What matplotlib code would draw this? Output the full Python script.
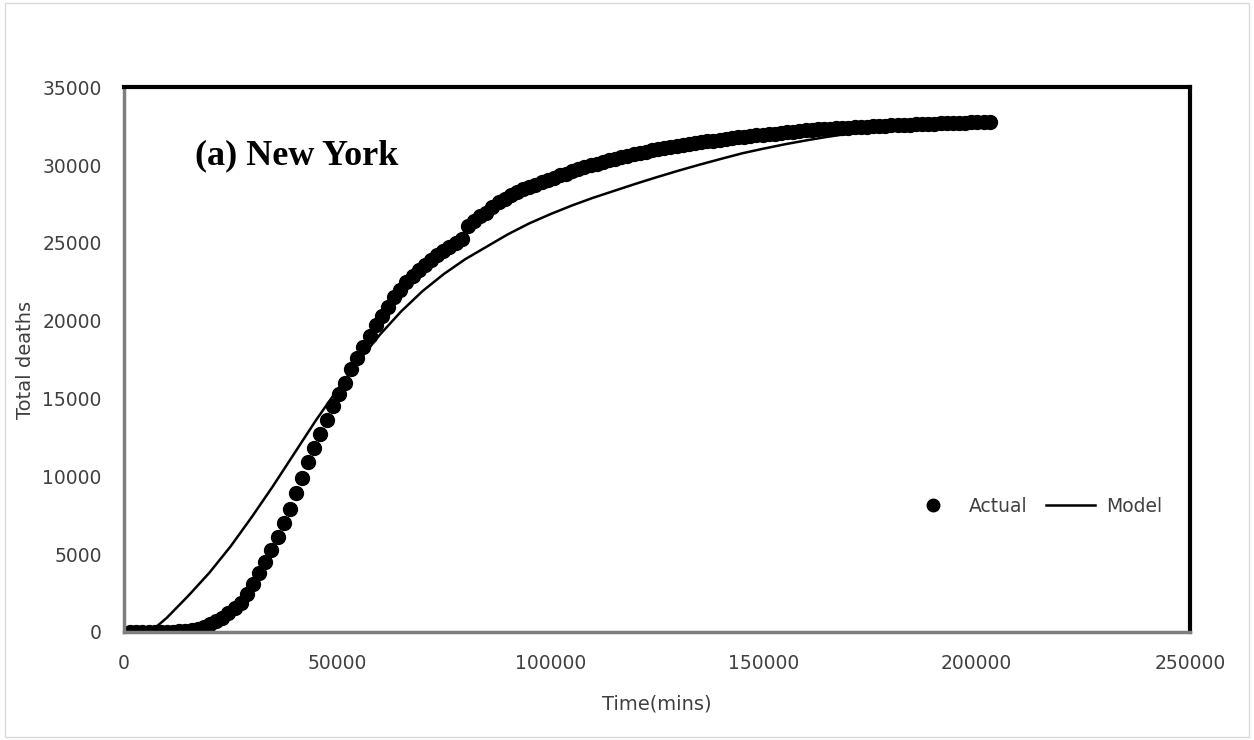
#!/usr/bin/env python
"""
Total deaths vs time for New York: actual daily counts and the fitted model.
"""

import matplotlib
matplotlib.use("Agg")
import matplotlib.pyplot as plt
from matplotlib.patches import Rectangle

# actual deaths, one value per day (1440 mins apart)
day_mins = 1440
actual = [
    0, 0, 0, 0, 0, 0, 10, 20, 40, 80,
    130, 200, 320, 480, 680, 920, 1200, 1520, 1880, 2450,
    3100, 3800, 4500, 5250, 6100, 7000, 7900, 8900, 9900, 10900,
    11800, 12700, 13600, 14500, 15300, 16000, 16900, 17600, 18300, 19000,
    19700, 20300, 20900, 21500, 22000, 22500, 22900, 23250, 23600, 23900,
    24200, 24500, 24750, 25000, 25250, 26100, 26400, 26700, 26950, 27300,
    27600, 27850, 28050, 28250, 28450, 28600, 28750, 28900, 29050, 29200,
    29350, 29450, 29600, 29750, 29880, 30000, 30100, 30200, 30300, 30400,
    30500, 30600, 30690, 30780, 30860, 30940, 31010, 31080, 31150, 31220,
    31290, 31350, 31410, 31470, 31530, 31580, 31630, 31680, 31730, 31780,
    31830, 31870, 31910, 31950, 31990, 32030, 32070, 32110, 32150, 32190,
    32230, 32260, 32290, 32320, 32350, 32370, 32390, 32410, 32430, 32450,
    32470, 32490, 32510, 32530, 32550, 32570, 32590, 32610, 32630, 32650,
    32660, 32670, 32680, 32690, 32700, 32710, 32720, 32740, 32760, 32780,
    32800,
]
actual_t = [day_mins * (i + 1) for i in range(len(actual))]

# model curve
model_t = [0, 5000, 7000, 10000, 15000, 20000, 25000, 30000, 35000, 40000,
           45000, 50000, 55000, 60000, 65000, 70000, 75000, 80000, 85000,
           90000, 95000, 100000, 105000, 110000, 115000, 120000, 125000,
           130000, 135000, 140000, 145000, 150000, 155000, 160000, 165000,
           170000, 175000, 180000, 185000, 190000, 195000, 200000, 203000]
model = [0, 0, 200, 900, 2300, 3800, 5500, 7400, 9400, 11500,
         13600, 15550, 17400, 19100, 20600, 21900, 23000, 23950, 24750,
         25550, 26250, 26850, 27400, 27900, 28350, 28800, 29230,
         29640, 30030, 30400, 30760, 31060, 31340, 31590, 31820,
         32020, 32200, 32350, 32480, 32590, 32680, 32760, 32800]

fig = plt.figure(figsize=(12.54, 7.40), dpi=100)
fig.patches.append(Rectangle((0.004, 0.004), 0.992, 0.992, transform=fig.transFigure,
                             fill=False, edgecolor="#d9d9d9", linewidth=1))
ax = fig.add_axes([0.0989, 0.146, 0.850, 0.736])

ax.plot(actual_t, actual, "o", color="black", markersize=10, label="Actual")
ax.plot(model_t, model, "-", color="black", linewidth=1.8, label="Model")

ax.set_xlim(0, 250000)
ax.set_ylim(0, 35000)
ax.set_xticks(range(0, 250001, 50000))
ax.set_yticks(range(0, 35001, 5000))
ax.tick_params(length=0, labelsize=13.5, colors="#404040")
ax.tick_params(axis="y", pad=16)
ax.tick_params(axis="x", pad=16)

for side in ["left", "bottom"]:
    ax.spines[side].set_color("#7f7f7f")
    ax.spines[side].set_linewidth(2.5)
for side in ["top", "right"]:
    ax.spines[side].set_color("black")
    ax.spines[side].set_linewidth(3)

ax.set_xlabel("Time(mins)", fontsize=14, color="#404040", labelpad=15)
ax.set_ylabel("Total deaths", fontsize=14, color="#404040", labelpad=5)

ax.text(0.067, 0.875, "(a) New York", transform=ax.transAxes, fontsize=26,
        fontweight="bold", family="Liberation Serif", va="center")

ax.legend(ncol=2, frameon=False, loc="center right", bbox_to_anchor=(0.99, 0.231),
          fontsize=13.5, handlelength=2.6, columnspacing=1.0, handletextpad=0.6,
          markerscale=0.9, labelcolor="#404040")

plt.savefig("out.png")
plt.close()
